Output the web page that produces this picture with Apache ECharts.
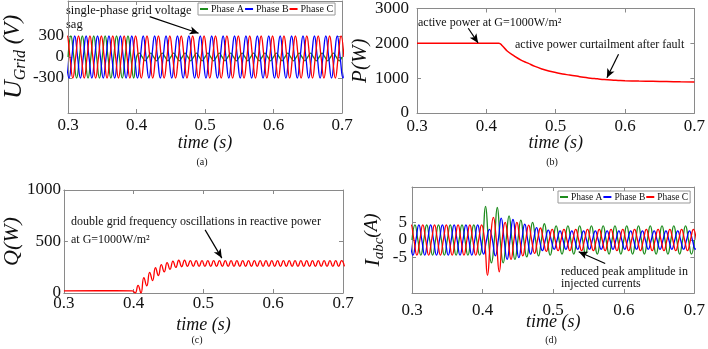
<!DOCTYPE html>
<html>
<head>
<meta charset="utf-8">
<script src="https://cdn.jsdelivr.net/npm/echarts@6/dist/echarts.min.js"></script>
<style>
  html, body { margin: 0; padding: 0; background: #fff; }
  #chart { width: 708px; height: 349px; }
</style>
</head>
<body>
<div id="chart"></div>
<script>
const SERIF = 'Liberation Serif';
const PERIOD = 1 / 60;          // grid period (60 Hz)
const QUARTER = PERIOD / 4;
const Q_STEP = 1 / 240;         // half period of the 120 Hz ripple in Q

const timeTicks = [0.3, 0.4, 0.5, 0.6, 0.7];
const phaseNames = ['Phase A', 'Phase B', 'Phase C'];
const phaseColors = ['#1e8c1e', '#0000ff', '#ff0000'];
// first zero crossing of each phase (A, B, C)
const phaseStart = [0.3, 0.3 - PERIOD / 6, 0.3 - PERIOD / 3];

// (a) grid voltage, peak of every half cycle (V)
const uA = [300, -300, 300, -300, 300, -300, 300, -300, 300, -300, 300, -300,
  55, -55, 55, -55, 55, -55, 55, -55, 55, -55, 55, -55, 55, -55, 55, -55, 55, -55,
  55, -55, 55, -55, 55, -55, 55, -55, 55, -55, 55, -55, 55, -55, 55, -55, 55, -55];
const uB = [-300, 300, -300, 300, -300, 300, -300, 300, -300, 300, -300, 300,
  -300, 300, -300, 300, -300, 300, -300, 300, -300, 300, -300, 300, -300, 300,
  -300, 300, -300, 300, -300, 300, -300, 300, -300, 300, -300, 300, -300, 300,
  -300, 300, -300, 300, -300, 300, -300, 300, -300];
const uC = [300, -300, 300, -300, 300, -300, 300, -300, 300, -300, 300, -300,
  300, -300, 300, -300, 300, -300, 300, -300, 300, -300, 300, -300, 300, -300,
  300, -300, 300, -300, 300, -300, 300, -300, 300, -300, 300, -300, 300, -300,
  300, -300, 300, -300, 300, -300, 300, -300, 300];

// (b) active power
const pTime = [0.3, 0.35, 0.4, 0.418, 0.423, 0.43, 0.44, 0.45, 0.46, 0.47, 0.48, 0.49, 0.5,
  0.51, 0.52, 0.53, 0.54, 0.55, 0.56, 0.57, 0.58, 0.59, 0.6, 0.62, 0.64, 0.66, 0.68, 0.7];
const pValue = [2000, 2000, 2000, 2000, 1930, 1780, 1640, 1520, 1430, 1340, 1265, 1205, 1160,
  1120, 1090, 1060, 1025, 1000, 980, 960, 945, 935, 927, 918, 911, 903, 895, 888];

// (c) reactive power: flat part, then extremes of the 120 Hz ripple from qStart
const qFlatTime = [0.3, 0.35, 0.398];
const qFlatValue = [20, 22, 20];
const qStart = 0.4021;
const qExtremes = [0, 75, 0, 150, 70, 200, 120, 245, 170, 275, 205, 295, 230, 310, 248, 318, 255, 320,
  258, 315, 258, 315, 258, 315, 258, 315, 258, 315, 258, 315, 258, 315, 258, 315, 258, 315,
  258, 315, 258, 315, 258, 315, 258, 315, 258, 315, 258, 315, 258, 315, 258, 315, 258, 315,
  258, 315, 258, 315, 258, 315, 258, 315, 258, 315, 258, 315, 258, 315, 258, 315, 258, 315, 258];

// (d) injected currents, peak of every half cycle (A)
const iA = [4.3, -4.3, 4.3, -4.3, 4.3, -4.3, 4.3, -4.3, 4.3, -4.3, 4.3, -4.3,
  9.5, -6.5, 9.2, -6.5, 6.8, -5.5, 5.6, -4.8, 5.0, -4.5, 4.6, -4.3,
  4.0, -4.0, 4.0, -4.0, 4.0, -4.0, 4.0, -4.0, 4.0, -4.0, 4.0, -4.0,
  4.0, -4.0, 4.0, -4.0, 4.0, -4.0, 4.0, -4.0, 4.0, -4.0, 4.0, -4.0];
const iB = [-4.3, 4.3, -4.3, 4.3, -4.3, 4.3, -4.3, 4.3, -4.3, 4.3, -4.3, 4.3,
  -4.0, 3.0, -4.5, 6.2, -5.5, 5.8, -5.0, 4.5, -4.0, 3.5, -3.0, 2.8,
  -2.6, 2.6, -2.6, 2.6, -2.6, 2.6, -2.6, 2.6, -2.6, 2.6, -2.6, 2.6,
  -2.6, 2.6, -2.6, 2.6, -2.6, 2.6, -2.6, 2.6, -2.6, 2.6, -2.6, 2.6, -2.6];
const iC = [4.3, -4.3, 4.3, -4.3, 4.3, -4.3, 4.3, -4.3, 4.3, -4.3, 4.3, -4.3,
  4.3, -10, 6.4, -9.0, 5.0, -5.5, 5.0, -4.5, 4.2, -3.8, 3.4, -3.2,
  3.0, -3.0, 3.0, -3.0, 3.0, -3.0, 3.0, -3.0, 3.0, -3.0, 3.0, -3.0,
  3.0, -3.0, 3.0, -3.0, 3.0, -3.0, 3.0, -3.0, 3.0, -3.0, 3.0, -3.0, 3.0];

// zero crossings + half-cycle peaks -> points
function wave(t0, peaks) {
  const pts = [[t0, 0]];
  peaks.forEach((p, k) => {
    pts.push([t0 + (2 * k + 1) * QUARTER, p]);
    pts.push([t0 + (2 * k + 2) * QUARTER, 0]);
  });
  return pts;
}

function zip(xs, ys) {
  return xs.map((x, i) => [x, ys[i]]);
}

const qData = zip(qFlatTime, qFlatValue)
  .concat(qExtremes.map((v, i) => [qStart + i * Q_STEP, v]));

const frame = { color: '#8a8a8a', width: 1 };
const tickFont = { fontFamily: SERIF, fontSize: 17, color: '#111' };
const italic = { fontFamily: SERIF, fontStyle: 'italic', color: '#111' };

const grids = [
  { left: 63, top: 1, width: 279, height: 112 },
  { left: 417, top: 7, width: 280, height: 106 },
  { left: 63, top: 190, width: 280, height: 103 },
  { left: 412, top: 187, width: 285, height: 106 }
];

function bottomX(i, margin, nameGap) {
  return {
    gridIndex: i, type: 'value', min: 0.3, max: 0.7, position: 'bottom',
    name: 'time (s)', nameLocation: 'middle', nameGap: nameGap, nameMoveOverlap: false,
    nameTextStyle: Object.assign({ fontSize: 18, verticalAlign: 'top' }, italic),
    axisLine: { show: true, onZero: false, lineStyle: frame },
    axisTick: { show: true, inside: true, length: 4, customValues: timeTicks, lineStyle: frame },
    axisLabel: Object.assign({ customValues: timeTicks, margin: margin, formatter: v => v.toFixed(1) }, tickFont),
    splitLine: { show: false }
  };
}

function topX(i) {
  return {
    gridIndex: i, type: 'value', min: 0.3, max: 0.7, position: 'top',
    axisLine: { show: true, onZero: false, lineStyle: frame },
    axisTick: { show: true, inside: true, length: 4, customValues: timeTicks, lineStyle: frame },
    axisLabel: { show: false },
    splitLine: { show: false }
  };
}

function leftY(i, min, max, ticks, margin, name, nameGap, rich, fontSize) {
  return {
    gridIndex: i, type: 'value', min: min, max: max, position: 'left',
    name: name, nameLocation: 'middle', nameRotate: 90, nameGap: nameGap,
    nameTextStyle: Object.assign({ fontSize: fontSize, rich: rich }, italic),
    axisLine: { show: true, onZero: false, lineStyle: frame },
    axisTick: { show: true, inside: true, length: 4, customValues: ticks, lineStyle: frame },
    axisLabel: Object.assign({ customValues: ticks, margin: margin, formatter: v => String(v) }, tickFont),
    splitLine: { show: false }
  };
}

function rightY(i, min, max, ticks) {
  return {
    gridIndex: i, type: 'value', min: min, max: max, position: 'right',
    axisLine: { show: true, onZero: false, lineStyle: frame },
    axisTick: { show: true, inside: true, length: 4, customValues: ticks, lineStyle: frame },
    axisLabel: { show: false },
    splitLine: { show: false }
  };
}

const uTicks = [-300, 0, 300];
const pTicks = [0, 1000, 2000, 3000];
const qTicks = [0, 500, 1000];
const iTicks = [-5, 0, 5];

function arrow(from, to) {
  return {
    silent: true,
    symbol: ['none', 'arrow'],
    symbolSize: [6, 9],
    label: { show: false },
    lineStyle: { color: '#000', width: 1.2, type: 'solid' },
    data: [[{ coord: from }, { coord: to }]]
  };
}

function phaseSeries(grid, peaks, withArrow) {
  return peaks.map((pk, k) => {
    const s = {
      name: phaseNames[k], type: 'line', xAxisIndex: grid, yAxisIndex: grid,
      data: wave(phaseStart[k], pk), smooth: true, symbol: 'none',
      lineStyle: { color: phaseColors[k], width: 1.3 },
      itemStyle: { color: phaseColors[k] }
    };
    if (k === 2 && withArrow) s.markLine = withArrow;
    return s;
  });
}

function text(x, y, str, size, align) {
  return {
    type: 'text', x: x, y: y, silent: true,
    style: {
      text: str, fontFamily: SERIF, fontSize: size || 12, fill: '#111',
      align: align || 'left', verticalAlign: 'middle'
    }
  };
}

const legendBase = {
  orient: 'horizontal', icon: 'rect', itemWidth: 8, itemHeight: 2, itemGap: 1,
  padding: [1, 2], backgroundColor: '#fff', borderColor: '#999', borderWidth: 1,
  textStyle: { fontFamily: SERIF, fontSize: 10, color: '#111', padding: [0, 0, 0, -2] },
  data: phaseNames
};

const chart = echarts.init(document.getElementById('chart'), null, { renderer: 'canvas' });

const option = {
  animation: false,
  backgroundColor: '#fff',
  textStyle: { fontFamily: SERIF },
  grid: grids,
  legend: [
    Object.assign({}, legendBase, { left: 198, top: 3 }),
    Object.assign({}, legendBase, { left: 558, top: 191, textStyle: Object.assign({}, legendBase.textStyle, { fontSize: 9.5 }) })
  ],
  xAxis: [bottomX(0, 4, 21), bottomX(1, 5, 21), bottomX(2, 2, 23), bottomX(3, 9, 20),
    topX(0), topX(1), topX(2), topX(3)],
  yAxis: [
    leftY(0, -800, 800, uTicks, 4, '{u|U}{s|Grid}{v| (V)}', 38, {
      u: { fontFamily: SERIF, fontStyle: 'italic', fontSize: 26, lineHeight: 26, verticalAlign: 'top' },
      s: { fontFamily: SERIF, fontStyle: 'italic', fontSize: 16, lineHeight: 16, padding: [12, 0, 0, 0], verticalAlign: 'top' },
      v: { fontFamily: SERIF, fontStyle: 'italic', fontSize: 23, lineHeight: 26, verticalAlign: 'top' }
    }, 23),
    leftY(1, 0, 3000, pTicks, 8, 'P(W)', 46, undefined, 21),
    leftY(2, 0, 1000, qTicks, 3, 'Q(W)', 40, undefined, 22),
    leftY(3, -15, 15, iTicks, 5, '{u|I}{s|abc}{v|(A)}', 28, {
      u: { fontFamily: SERIF, fontStyle: 'italic', fontSize: 22, lineHeight: 22, verticalAlign: 'top' },
      s: { fontFamily: SERIF, fontStyle: 'italic', fontSize: 15, lineHeight: 15, padding: [10, 0, 0, 0], verticalAlign: 'top' },
      v: { fontFamily: SERIF, fontStyle: 'italic', fontSize: 19, lineHeight: 22, verticalAlign: 'top' }
    }, 19),
    rightY(0, -800, 800, uTicks), rightY(1, 0, 3000, pTicks), rightY(2, 0, 1000, qTicks), rightY(3, -15, 15, iTicks)
  ],
  series: [
    ...phaseSeries(0, [uA, uB, uC], arrow([0.4191, 576], [0.4906, 339])),
    {
      name: 'P', type: 'line', xAxisIndex: 1, yAxisIndex: 1, data: zip(pTime, pValue),
      smooth: true, symbol: 'none', lineStyle: { color: '#ff0000', width: 1.5 },
      markLine: {
        silent: true, symbol: ['none', 'arrow'], symbolSize: [6, 9], label: { show: false },
        lineStyle: { color: '#000', width: 1.2, type: 'solid' },
        data: [
          [{ coord: [0.3739, 2433] }, { coord: [0.3881, 2012] }],
          [{ coord: [0.5906, 1686] }, { coord: [0.5739, 1012] }]
        ]
      }
    },
    {
      name: 'Q', type: 'line', xAxisIndex: 2, yAxisIndex: 2, data: qData,
      smooth: true, symbol: 'none', lineStyle: { color: '#ff0000', width: 1.3 },
      markLine: arrow([0.5024, 613], [0.5263, 339])
    },
    ...phaseSeries(3, [iA, iB, iC], arrow([0.5737, -6.66], [0.5361, -3.34]))
  ],
  graphic: [
    text(66, 11, 'single-phase grid voltage', 12.5),
    text(66, 25, 'sag', 12.5),
    text(418, 23, 'active power at G=1000W/m²', 12),
    text(515, 45, 'active power curtailment after fault', 12),
    text(71, 222, 'double grid frequency oscillations in reactive power', 12),
    text(71, 240, 'at G=1000W/m²', 12),
    text(561, 272, 'reduced peak amplitude in', 12),
    text(561, 284, 'injected currents', 12),
    text(202, 162, '(a)', 10, 'center'),
    text(552, 162, '(b)', 10, 'center'),
    text(197, 340, '(c)', 10, 'center'),
    text(551, 340, '(d)', 10, 'center')
  ]
};

chart.setOption(option);
</script>
</body>
</html>
